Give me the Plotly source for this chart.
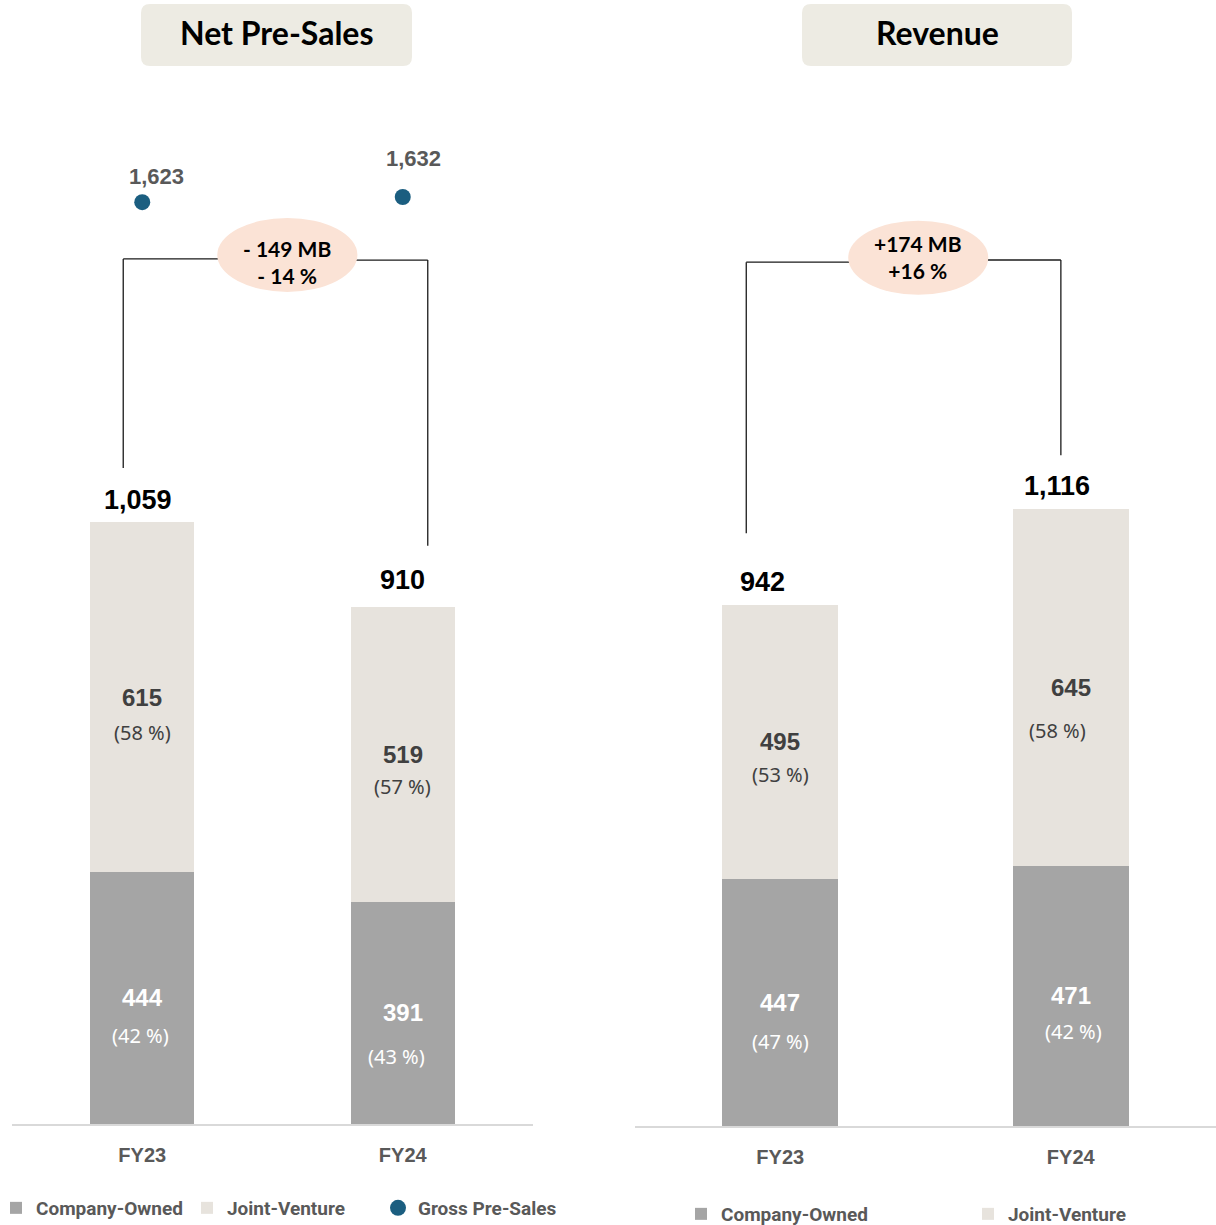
import plotly.graph_objects as go

# ---------------- data ----------------
categories = ["FY23", "FY24"]

presales_company = [444, 391]
presales_jv = [615, 519]
presales_company_pct = ["(42 %)", "(43 %)"]
presales_jv_pct = ["(58 %)", "(57 %)"]
gross_presales = [1623, 1632]

revenue_company = [447, 471]
revenue_jv = [495, 645]
revenue_company_pct = ["(47 %)", "(42 %)"]
revenue_jv_pct = ["(53 %)", "(58 %)"]

presales_change = "- 149 MB<br>- 14 %"
revenue_change = "+174 MB<br>+16 %"

# ---------------- styling ----------------
C_CO = "#A5A5A5"
C_JV = "#E7E3DD"
C_DOT = "#1B5E80"
C_TXT = "#595959"
C_DARK = "#404040"
C_PEACH = "#FBE3D6"
C_TITLEBOX = "#EDEBE3"
W, H = 1216, 1225

def px_x(px):
    return px / W

def px_y(py):
    return 1 - py / H

fig = go.Figure()

presales_total = [a + b for a, b in zip(presales_company, presales_jv)]
revenue_total = [a + b for a, b in zip(revenue_company, revenue_jv)]

# left panel bars
fig.add_trace(go.Bar(x=categories, y=presales_company, name="Company-Owned",
                     marker=dict(color=C_CO, line=dict(width=0)), width=0.4,
                     xaxis="x", yaxis="y", legend="legend", hoverinfo="skip"))
fig.add_trace(go.Bar(x=categories, y=presales_jv, name="Joint-Venture",
                     marker=dict(color=C_JV, line=dict(width=0)), width=0.4,
                     xaxis="x", yaxis="y", legend="legend", hoverinfo="skip"))
fig.add_trace(go.Scatter(x=categories, y=gross_presales, name="Gross Pre-Sales",
                         mode="markers", marker=dict(color=C_DOT, size=16),
                         xaxis="x", yaxis="y", legend="legend", hoverinfo="skip"))
# right panel bars
fig.add_trace(go.Bar(x=categories, y=revenue_company, name="Company-Owned",
                     marker=dict(color=C_CO, line=dict(width=0)), width=0.4,
                     xaxis="x2", yaxis="y2", legend="legend2", hoverinfo="skip"))
fig.add_trace(go.Bar(x=categories, y=revenue_jv, name="Joint-Venture",
                     marker=dict(color=C_JV, line=dict(width=0)), width=0.4,
                     xaxis="x2", yaxis="y2", legend="legend2", hoverinfo="skip"))

annotations = []
shapes = []

def seg_labels(xref, yref, company, jv, cpct, jpct, c_off, j_off):
    # c_off / j_off: (yshift, xshift) of the percentage line under each value
    for i, cat in enumerate(categories):
        cmid = company[i] / 2
        jmid = company[i] + jv[i] / 2
        annotations.append(dict(x=cat, y=cmid, xref=xref, yref=yref, text=f"<b>{company[i]}</b>",
                                showarrow=False, font=dict(family="Liberation Sans", size=24, color="white")))
        annotations.append(dict(x=cat, y=cmid, xref=xref, yref=yref, text=cpct[i],
                                yshift=c_off[i][0], xshift=c_off[i][1],
                                showarrow=False, font=dict(family="Noto Sans", size=20, color="white")))
        annotations.append(dict(x=cat, y=jmid, xref=xref, yref=yref, text=f"<b>{jv[i]}</b>",
                                showarrow=False, font=dict(family="Liberation Sans", size=24, color=C_DARK)))
        annotations.append(dict(x=cat, y=jmid, xref=xref, yref=yref, text=jpct[i],
                                yshift=j_off[i][0], xshift=j_off[i][1],
                                showarrow=False, font=dict(family="Noto Sans", size=20, color=C_DARK)))

def total_labels(xref, yref, totals, shifts):
    for i, cat in enumerate(categories):
        annotations.append(dict(x=cat, y=totals[i], xref=xref, yref=yref, text=f"<b>{totals[i]:,}</b>",
                                yanchor="bottom", yshift=shifts[i][0], xshift=shifts[i][1], showarrow=False,
                                font=dict(family="Liberation Sans", size=27, color="black")))

seg_labels("x", "y", presales_company, presales_jv, presales_company_pct, presales_jv_pct,
           [(-38, -2), (-44, -6)], [(-35, 0), (-32, 0)])
seg_labels("x2", "y2", revenue_company, revenue_jv, revenue_company_pct, revenue_jv_pct,
           [(-39, 0), (-36, 3)], [(-33, 0), (-43, -13)])
total_labels("x", "y", presales_total, [(5, -4), (10, 0)])
total_labels("x2", "y2", revenue_total, [(6, -18), (6, -14)])

dot_label_shift = [(11, 14), (24, 11)]
for i, cat in enumerate(categories):
    annotations.append(dict(x=cat, y=gross_presales[i], xref="x", yref="y", text=f"<b>{gross_presales[i]:,}</b>",
                            yanchor="bottom", yshift=dot_label_shift[i][0], xshift=dot_label_shift[i][1],
                            showarrow=False, font=dict(family="Liberation Sans", size=22, color=C_TXT)))

# change brackets (decorative, in data coords)
def bracket(xref, yref, xl, yl_bot, yl_top, xr, yr_bot, yr_top, ex, ey, erx, ery, text, tshift):
    line = dict(color="#1a1a1a", width=1.3)
    shapes.append(dict(type="line", xref=xref, yref=yref, x0=xl, x1=xl, y0=yl_bot, y1=yl_top, line=line))
    shapes.append(dict(type="line", xref=xref, yref=yref, x0=xl, x1=ex - erx * 0.98, y0=yl_top, y1=yl_top, line=line))
    shapes.append(dict(type="line", xref=xref, yref=yref, x0=xr, x1=xr, y0=yr_bot, y1=yr_top, line=line))
    shapes.append(dict(type="line", xref=xref, yref=yref, x0=ex + erx * 0.98, x1=xr, y0=yr_top, y1=yr_top, line=line))
    shapes.append(dict(type="circle", xref=xref, yref=yref, x0=ex - erx, x1=ex + erx, y0=ey - ery, y1=ey + ery,
                       fillcolor=C_PEACH, line=dict(width=0)))
    annotations.append(dict(x=ex, y=ey, xref=xref, yref=yref, text=f"<b>{text}</b>", showarrow=False,
                            yshift=tshift, font=dict(family="Lato", size=21, color="black")))

bracket("x", "y", -0.073, 1155, 1523, 1.096, 1018, 1521, 0.557, 1530, 0.269, 65, presales_change, -7)
bracket("x2", "y2", -0.117, 1072, 1562, 0.966, 1213, 1566, 0.475, 1570, 0.241, 67, revenue_change, 1)

# title boxes
def rounded_box(x0, y0, x1, y1, r):
    X0, X1 = px_x(x0), px_x(x1)
    Y0, Y1 = px_y(y0), px_y(y1)
    rx, ry = r / W, r / H
    return (f"M {X0+rx},{Y0} L {X1-rx},{Y0} Q {X1},{Y0} {X1},{Y0-ry} "
            f"L {X1},{Y1+ry} Q {X1},{Y1} {X1-rx},{Y1} L {X0+rx},{Y1} "
            f"Q {X0},{Y1} {X0},{Y1+ry} L {X0},{Y0-ry} Q {X0},{Y0} {X0+rx},{Y0} Z")

for (x0, x1, title) in [(141, 412, "Net Pre-Sales"), (802, 1072, "Revenue")]:
    shapes.append(dict(type="path", xref="paper", yref="paper", path=rounded_box(x0, 4, x1, 66, 9),
                       fillcolor=C_TITLEBOX, line=dict(width=0), layer="below"))
    annotations.append(dict(x=px_x((x0 + x1) / 2), y=px_y(33), xref="paper", yref="paper",
                            text=f"<b>{title}</b>", showarrow=False, xanchor="center", yanchor="middle",
                            font=dict(family="Lato", size=32, color="black")))

axis_common = dict(showgrid=False, zeroline=False, showline=True, linecolor="#D9D9D9", linewidth=2,
                   ticks="outside", ticklen=12, tickcolor="rgba(0,0,0,0)", fixedrange=True,
                   tickfont=dict(family="Liberation Sans", size=20, color=C_TXT, weight="bold"),
                   range=[-0.5, 1.5], type="category")

legend_font = dict(family="Roboto", size=19, color=C_TXT, weight="bold")

fig.update_layout(
    width=W, height=H,
    margin=dict(l=0, r=0, t=0, b=0, autoexpand=False),
    paper_bgcolor="white", plot_bgcolor="white",
    barmode="stack",
    bargap=0.6,
    xaxis=dict(domain=[px_x(12), px_x(533)], anchor="y", **axis_common),
    yaxis=dict(domain=[px_y(1124), px_y(100)], range=[0, 1024 / 0.568], visible=False, fixedrange=True),
    xaxis2=dict(domain=[px_x(635), 1.0], anchor="y2", **axis_common),
    yaxis2=dict(domain=[px_y(1126), px_y(100)], range=[0, 1026 / 0.553], visible=False, fixedrange=True),
    legend=dict(orientation="h", x=px_x(-4), y=px_y(1208), xanchor="left", yanchor="middle",
                font=legend_font, bgcolor="rgba(0,0,0,0)",
                entrywidth=146, entrywidthmode="pixels",
                itemclick=False, itemdoubleclick=False, traceorder="normal"),
    legend2=dict(orientation="h", x=px_x(681), y=px_y(1214), xanchor="left", yanchor="middle",
                 font=legend_font, bgcolor="rgba(0,0,0,0)",
                 entrywidth=242, entrywidthmode="pixels",
                 itemclick=False, itemdoubleclick=False, traceorder="normal"),
    annotations=annotations,
    shapes=shapes,
    showlegend=True,
)

fig.write_html(
    "out.html",
    config={"displayModeBar": False},
    post_script="document.body.style.margin='0';document.documentElement.style.overflow='hidden';",
)
